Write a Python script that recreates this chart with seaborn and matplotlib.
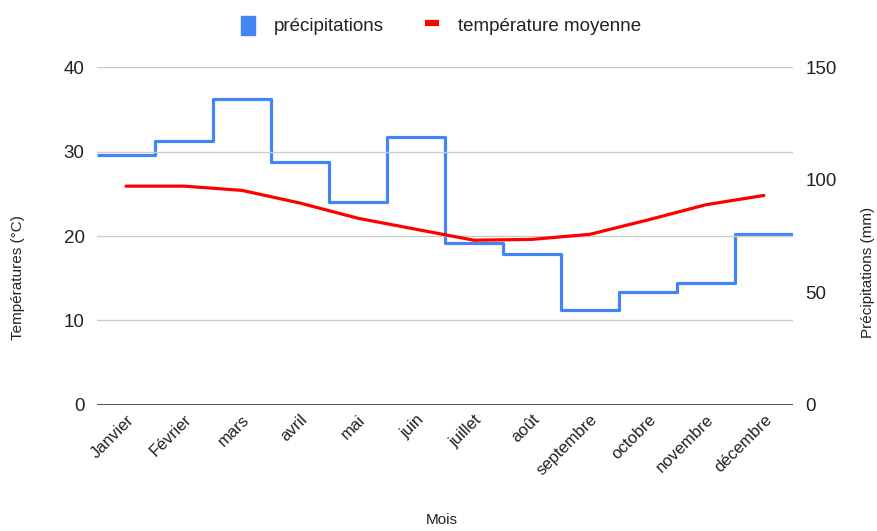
import numpy as np
import pandas as pd
import matplotlib.pyplot as plt
import seaborn as sns
from matplotlib.patches import Patch
from matplotlib.lines import Line2D

# Data
mois = ["Janvier", "Février", "mars", "avril", "mai", "juin",
        "juillet", "août", "septembre", "octobre", "novembre", "décembre"]
temperature = [25.9, 25.9, 25.4, 23.9, 22.1, 20.8, 19.5, 19.6, 20.2, 21.9, 23.7, 24.8]
precipitations = [111, 117, 136, 108, 90, 119, 72, 67, 42, 50, 54, 76]

sns.set_style("white")
plt.rcParams["font.family"] = ["Liberation Sans", "DejaVu Sans"]

blue = "#4285F4"
red = "#FF0000"
txt = "#222222"

temp_df = pd.DataFrame({"x": np.arange(len(mois)), "temp": temperature})
# step line spans each month's full slot
prec_df = pd.DataFrame({
    "x": np.arange(len(mois) + 1) - 0.5,
    "prec": precipitations + [precipitations[-1]],
})

fig = plt.figure(figsize=(8.78, 5.31), dpi=100)
ax = fig.add_axes([0.1105, 0.2373, 0.7925, 0.6365])
ax2 = ax.twinx()

sns.lineplot(data=prec_df, x="x", y="prec", ax=ax2, color=blue, linewidth=2.3,
             drawstyle="steps-post", solid_joinstyle="round", solid_capstyle="butt")
sns.lineplot(data=temp_df, x="x", y="temp", ax=ax, color=red, linewidth=2.3, zorder=3)

ax.set_zorder(ax2.get_zorder() + 1)
ax.patch.set_visible(False)

ax.set_xlim(-0.5, len(mois) - 0.5)
ax.set_ylim(0, 40)
ax2.set_ylim(0, 150)
ax.set_yticks([0, 10, 20, 30, 40])
ax2.set_yticks([0, 50, 100, 150])
ax.grid(axis="y", color="#cccccc", linewidth=1)
ax.axhline(0, color="#333333", linewidth=1.2, zorder=1)

ax.set_xticks(np.arange(len(mois)))
ax.set_xticklabels(mois, rotation=45, ha="right", rotation_mode="anchor",
                   fontsize=12, color=txt)
ax.tick_params(axis="x", length=0, pad=5)
ax.tick_params(axis="y", length=0, labelsize=13.5, labelcolor=txt, pad=9)
ax2.tick_params(axis="y", length=0, labelsize=13.5, labelcolor=txt, pad=9)

for a in (ax, ax2):
    for s in a.spines.values():
        s.set_visible(False)

ax.set_xlabel("")
ax.set_ylabel("")
ax2.set_ylabel("")
ax2.set_xlabel("")

fig.text(0.021, 0.478, "Températures (°C)", rotation=90, va="center", ha="center",
         fontsize=11, color=txt)
fig.text(0.989, 0.487, "Précipitations (mm)", rotation=90, va="center", ha="center",
         fontsize=11, color=txt)
fig.text(0.503, 0.02, "Mois", ha="center", va="center", fontsize=11, color=txt)

handles = [Patch(facecolor=blue, edgecolor=blue),
           Line2D([0], [0], color=red, linewidth=4.5, solid_capstyle="butt")]
fig.legend(handles, ["précipitations", "température moyenne"], loc="center",
           bbox_to_anchor=(0.502, 0.952), ncol=2, frameon=False, fontsize=13.5,
           handlelength=0.75, handleheight=1.2, columnspacing=2.2, handletextpad=1.0,
           labelcolor=txt)

fig.savefig("out.png", dpi=100)
